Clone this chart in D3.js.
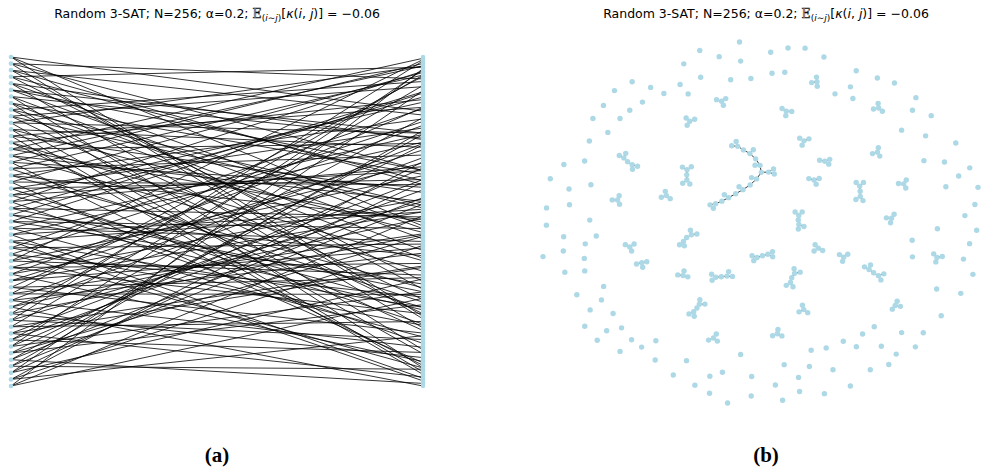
<!DOCTYPE html>
<html><head><meta charset="utf-8">
<script src="https://cdn.jsdelivr.net/npm/d3@7"></script>
<style>body{margin:0;background:#fff} svg{display:block}</style>
</head><body><svg id="c" width="984" height="470"></svg>
<script>
// ---- data ----
const nVars = 256;
const alphaRatio = "0.2";
const meanCurvature = "−0.06";
const panelLabels = ["(a)", "(b)"];
// clauses: each is a triple of variable indices (0..255)
const clauses = [
  [42,131,201],[17,203,88],[45,180,99],[8,96,174],[64,210,133],[88,141,59],
  [227,63,150],[156,91,241],[115,19,188],[23,117,199],[59,230,7],[244,70,136],
  [105,246,39],[33,158,212],[1,128,67],[7,166,112],[101,5,239],[190,76,14],
  [179,48,126],[99,12,237],[55,207,95],[88,35,194],[85,222,11],[124,31,182],
  [154,27,196],[133,28,176],[217,143,60],[66,118,249],[194,251,120],[208,40,145],
  [241,50,186],[92,169,2],[199,82,160],[236,110,53],[120,72,148],[39,171,214],
  [137,15,184],[67,225,152],[78,255,125],[14,138,233],[112,3,219],[22,162,205],
  [95,163,248],[103,47,229],[182,86,10],[192,139,68],[60,253,109],[57,242,114],
  [172,26,97],[146,216,81],[9,123,187]
];

const svg = d3.select("#c");
const nodeColor = "#add8e6";

function title(cx) {
  const t = svg.append("text").attr("x", cx).attr("y", 18)
    .attr("text-anchor", "middle")
    .style("font-family", "DejaVu Sans").style("font-size", "12.5px").attr("fill", "#000");
  t.append("tspan").text(`Random 3-SAT; N=${nVars}; α=${alphaRatio}; `);
  t.append("tspan").text("E").style("font-family", "DejaVu Serif")
    .attr("fill", "#fff").attr("stroke", "#000").attr("stroke-width", 0.55);
  const sub = [["(", 0], ["i", 1], ["∼", 0], ["j", 1], [")", 0]];
  sub.forEach((s, k) => {
    const ts = t.append("tspan").style("font-size", "9px").text(s[0]);
    if (s[1]) ts.style("font-style", "italic");
    if (k === 0) ts.attr("dy", 3);
  });
  const main = [["[", 0], ["κ", 1], ["(", 0], ["i", 1], [", ", 0], ["j", 1], [")]", 0]];
  main.forEach((s, k) => {
    const ts = t.append("tspan").text(s[0]);
    if (s[1]) ts.style("font-style", "italic");
    if (k === 0) ts.attr("dy", -3);
  });
  t.append("tspan").text(` = ${meanCurvature}`);
}

// ---- panel (a): bipartite layout ----
const yClause = d3.scalePoint().domain(d3.range(clauses.length)).range([57, 386]);
const yVar = d3.scalePoint().domain(d3.range(nVars)).range([57, 386]);
const xCol = d3.scalePoint().domain(["clause", "var"]).range([11, 423]);

const ga = svg.append("g");
const bipEdges = [];
clauses.forEach((c, j) => c.forEach(v => bipEdges.push({c: j, v})));
ga.selectAll("line").data(bipEdges).join("line")
  .attr("x1", xCol("clause")).attr("y1", d => yClause(d.c))
  .attr("x2", xCol("var")).attr("y2", d => yVar(d.v))
  .attr("stroke", "#000").attr("stroke-width", 0.8);
ga.selectAll("circle.cl").data(d3.range(clauses.length)).join("circle").attr("class", "cl")
  .attr("cx", xCol("clause")).attr("cy", d => yClause(d)).attr("r", 2.3).attr("fill", nodeColor);
ga.selectAll("circle.vr").data(d3.range(nVars)).join("circle").attr("class", "vr")
  .attr("cx", xCol("var")).attr("cy", d => yVar(d)).attr("r", 2.2).attr("fill", nodeColor);

// ---- panel (b): force layout of factor graph ----
const nodes = d3.range(nVars).map(i => ({id: "v" + i, deg: 0}))
  .concat(clauses.map((c, j) => ({id: "c" + j, deg: 3})));
const links = [];
clauses.forEach((c, j) => c.forEach(v => { links.push({source: "c" + j, target: "v" + v}); nodes[v].deg++; }));
const sim = d3.forceSimulation(nodes)
  .force("link", d3.forceLink(links).id(d => d.id).distance(5).strength(1).iterations(4))
  .force("charge", d3.forceManyBody().strength(-18).distanceMax(140))
  .force("ring", d3.forceRadial(d => d.deg === 0 ? 195 : 0).strength(d => d.deg === 0 ? 0.07 : 0.012))
  .stop();
for (let i = 0; i < 500; i++) sim.tick();

const xs = d3.scaleLinear().domain(d3.extent(nodes, d => d.x)).range([543, 978]);
const ys = d3.scaleLinear().domain(d3.extent(nodes, d => d.y)).range([42, 403]);
const gb = svg.append("g");
gb.selectAll("line").data(links).join("line")
  .attr("x1", d => xs(d.source.x)).attr("y1", d => ys(d.source.y))
  .attr("x2", d => xs(d.target.x)).attr("y2", d => ys(d.target.y))
  .attr("stroke", "#222").attr("stroke-width", 0.9);
gb.selectAll("circle").data(nodes).join("circle")
  .attr("cx", d => xs(d.x)).attr("cy", d => ys(d.y)).attr("r", 2.7).attr("fill", nodeColor);

title(217);
title(766);
svg.selectAll("text.lab").data(panelLabels).join("text").attr("class", "lab")
  .attr("x", (d, i) => i ? 766 : 217).attr("y", 462).attr("text-anchor", "middle")
  .style("font-family", "Liberation Serif").style("font-weight", "bold").style("font-size", "21px")
  .text(d => d);
</script></body></html>
